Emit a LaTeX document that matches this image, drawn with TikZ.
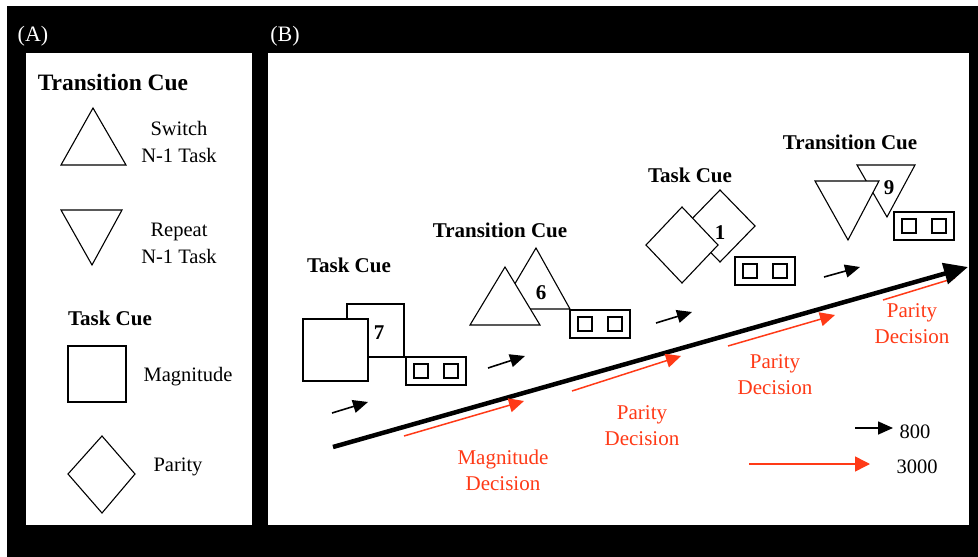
\documentclass[tikz,border=0pt]{standalone}
\usepackage{fontspec}
\setmainfont{Liberation Serif}
\usetikzlibrary{arrows.meta}
\definecolor{decred}{HTML}{FF3A17}

\tikzset{
  cue/.style={draw=black, line width=1.1pt, fill=white, line join=miter},
  respbox/.style={draw, line width=1.1pt, fill=white, minimum width=60pt, minimum height=28pt, inner sep=0pt},
  keybox/.style={draw, line width=1.1pt, minimum size=14pt, inner sep=0pt},
}

\begin{document}
\begin{tikzpicture}[x=1pt, y=-1pt,
                    bighead/.style={font=\fontsize{23.5}{27}\selectfont\bfseries},
                    heading/.style={font=\fontsize{21}{25}\selectfont\bfseries},
                    plaintxt/.style={align=center, font=\fontsize{20.5}{27}\selectfont},
                    decision/.style={text=decred, align=center, font=\fontsize{21}{26}\selectfont},
                    panelname/.style={text=white, font=\fontsize{22}{24}\selectfont},
                    fast/.style={line width=1.6pt, -{Triangle[length=15pt,width=13pt]}},
                    slow/.style={decred, line width=1.5pt, -{Triangle[length=15pt,width=14pt]}}]

\useasboundingbox (0,0) rectangle (978,557);

%background
\fill [white] (0,0) rectangle (978,557);
\fill [black] (7,6) rectangle (978,557);
\fill [white] (26,53) rectangle (252,525);
\fill [white] (268,53) rectangle (969,525);
\node [panelname] (pA) at (33,36) {(A)};
\node [panelname] (pB) at (285,36) {(B)};

% panel A : key
\node [bighead] (keyTrans) at (113,82) {Transition Cue};
%switch
\draw [cue] (61,165) -- (93,108) -- (126,165) -- cycle;
\node [plaintxt] (keySwitch) at (179,142) {Switch\\N-1 Task};
%repeat
\draw [cue] (61,210) -- (122,210) -- (92,265) -- cycle;
\node [plaintxt] (keyRepeat) at (179,243) {Repeat\\N-1 Task};

\node [heading] (keyTask) at (110,318) {Task Cue};
%magnitude
\draw [cue] (68,346) rectangle (126,402);
\node [plaintxt] (keyMag) at (188,377) {Magnitude};
%parity
\draw [cue] (102,436) -- (135,474) -- (102,513) -- (68,474) -- cycle;
\node [plaintxt] (keyPar) at (178,467) {Parity};

% panel B : trial sequence
%last decision runs under the time line
\draw [decred, line width=1.5pt] (883,300) -- (955,278);
%time line
\draw [line width=4.5pt, -{Triangle[length=24pt,width=21pt]}] (333,447) -- (968,267);

%1st : task cue, magnitude
\node [heading] (tc1) at (349,265) {Task Cue};
\draw [cue] (347,304) rectangle (404,357);
\draw [cue] (303,319) rectangle (368,381);
\node [heading] (d1) at (379,333) {7};

%2nd : transition cue, switch
\node [heading] (tr1) at (500,230) {Transition Cue};
\draw [cue] (500,309) -- (536,248) -- (570,309) -- cycle;
\draw [cue] (470,325) -- (505,267) -- (540,325) -- cycle;
\node [heading] (d2) at (541,293) {6};

%3rd : task cue, parity
\node [heading] (tc2) at (690,175) {Task Cue};
\draw [cue] (720,190) -- (755,226) -- (720,262) -- (685,226) -- cycle;
\draw [cue] (682,207) -- (718,245) -- (682,283) -- (646,245) -- cycle;
\node [heading] (d3) at (720,233) {1};

%4th : transition cue, repeat
\node [heading] (tr2) at (850,142) {Transition Cue};
\draw [cue] (857,165) -- (915,165) -- (887,217) -- cycle;
\draw [cue] (815,181) -- (879,181) -- (848,240) -- cycle;
\node [heading] (d4) at (889,188) {9};

%response boxes
\foreach \cx/\cy [count=\i] in {436/371, 600/324, 765/271, 924/226}{
  \node [respbox] (resp\i) at (\cx,\cy) {};
  \node [keybox] (left\i) at ([xshift=-15pt]resp\i.center) {};
  \node [keybox] (right\i) at ([xshift=15pt]resp\i.center) {};
}

%short intervals
\draw [fast] (332,413) -- (368,402);
\draw [fast] (488,368) -- (525,356);
\draw [fast] (656,323) -- (692,312);
\draw [fast] (824,277) -- (860,267);

%decision intervals
\draw [slow] (404,436) -- (524,401);
\draw [slow] (572,391) -- (681,356);
\draw [slow] (728,346) -- (835,315);

\node [decision] (dec1) at (503,470) {Magnitude\\Decision};
\node [decision] (dec2) at (642,426) {Parity\\Decision};
\node [decision] (dec3) at (775,375) {Parity\\Decision};
\node [decision] (dec4) at (912,324) {Parity\\Decision};

%legend
\draw [fast] (855,428) -- (893,428);
\node [plaintxt] (ms800) at (915,432) {800};
\draw [slow, -{Triangle[length=15pt,width=15pt]}] (749,464) -- (870,464);
\node [plaintxt] (ms3000) at (917,467) {3000};

\end{tikzpicture}
\end{document}
